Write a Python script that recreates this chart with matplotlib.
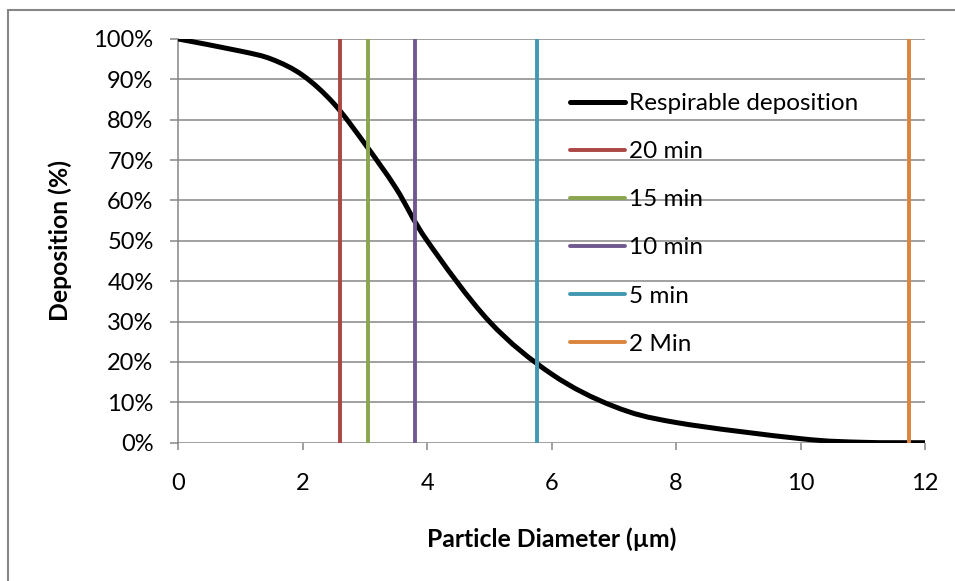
import numpy as np
import matplotlib
matplotlib.use('Agg')
import matplotlib.pyplot as plt
from matplotlib.path import Path
from matplotlib.patches import PathPatch, Rectangle
from matplotlib.lines import Line2D
from matplotlib.ticker import FuncFormatter

plt.rcParams['font.family'] = ['Lato', 'DejaVu Sans']

# respirable deposition curve (particle diameter in um, deposition in %)
diameter = [0, 1, 1.5, 2, 2.5, 3, 3.5, 4, 5, 6, 7, 8, 10, 11, 12]
deposition = [100, 97, 95, 91, 84, 74, 63, 50, 30, 17, 9, 5, 1, 0.1, 0]

# cut sizes for each time
time_labels = ['20 min', '15 min', '10 min', '5 min', '2 Min']
time_cuts = [2.6, 3.05, 3.8, 5.77, 11.75]
time_colors = ['#AA4643', '#89A54E', '#71588F', '#4198AF', '#DB843D']

x_ticks = [0, 2, 4, 6, 8, 10, 12]
y_ticks = [0, 10, 20, 30, 40, 50, 60, 70, 80, 90, 100]

grid_col = '#868686'
W, H = 955, 581

fig = plt.figure(figsize=(W / 100, H / 100), dpi=100)
ax = fig.add_axes([178.3 / W, 1 - 442.7 / H, (925 - 178.3) / W, (442.7 - 39) / H])


# smoothed line like excel (bezier through the points)
def smooth_path(xs, ys):
    pts = np.column_stack([xs, ys]).astype(float)
    n = len(pts)
    verts = [pts[0]]
    codes = [Path.MOVETO]
    for i in range(n - 1):
        p0 = pts[i - 1] if i > 0 else pts[i]
        p1 = pts[i]
        p2 = pts[i + 1]
        p3 = pts[i + 2] if i + 2 < n else pts[i + 1]
        c1 = p1 + (p2 - p0) / 6
        c2 = p2 - (p3 - p1) / 6
        verts += [c1, c2, p2]
        codes += [Path.CURVE4] * 3
    return Path(verts, codes)


patch = PathPatch(smooth_path(diameter, deposition), facecolor='none', edgecolor='black',
                  lw=3.6, capstyle='round', joinstyle='round', zorder=3)
ax.add_patch(patch)

handles = [Line2D([], [], color='black', lw=3.6, solid_capstyle='round')]
for xc, lab, col in zip(time_cuts, time_labels, time_colors):
    ax.plot([xc, xc], [0, 100], color=col, lw=2.8, solid_capstyle='round', zorder=4, label=lab)
    handles.append(Line2D([], [], color=col, lw=2.8, solid_capstyle='round'))

ax.set_xlim(0, 12)
ax.set_ylim(0, 100)
ax.set_xticks(x_ticks)
ax.set_yticks(y_ticks)
ax.yaxis.set_major_formatter(FuncFormatter(lambda v, p: '%d%%' % v))
ax.grid(axis='y', color=grid_col, lw=1.1)
ax.set_axisbelow(True)
for s in ['top', 'right', 'bottom']:
    ax.spines[s].set_visible(False)
ax.spines['left'].set_color(grid_col)
ax.spines['left'].set_linewidth(1.1)
ax.tick_params(axis='y', length=5.8, width=1.1, color=grid_col, labelsize=17, pad=12)
ax.tick_params(axis='x', length=5, width=1.1, color=grid_col, labelsize=17, pad=17)

ax.set_xlabel('Particle Diameter (µm)', fontsize=17.8, fontweight='bold')
ax.set_ylabel('Deposition (%)', fontsize=17.8, fontweight='bold')
ax.xaxis.set_label_coords(0.5, -0.21)
ax.yaxis.set_label_coords(-0.142, 0.5)

labels = ['Respirable deposition'] + time_labels
ax.legend(handles, labels, loc='upper left', bbox_to_anchor=(0.5246, 0.866), frameon=False,
          fontsize=17.5, handlelength=2.26, handletextpad=0.16, labelspacing=1.115,
          borderpad=0, borderaxespad=0)

# outer chart border (only top and left visible)
fig.add_artist(Rectangle((8 / W, -0.1), 1.2, (H - 9.5) / H + 0.1, transform=fig.transFigure,
                         fill=False, edgecolor=grid_col, lw=1.5))

fig.savefig('out.png', dpi=100)
